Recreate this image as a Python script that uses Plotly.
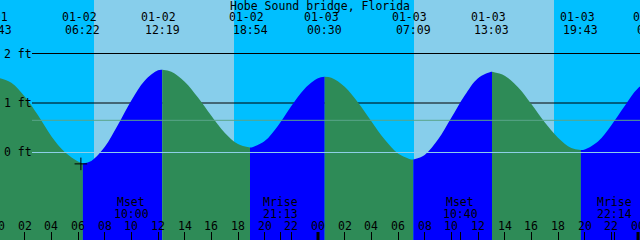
import plotly.graph_objects as go

# ---------------- data ----------------
station = "Hobe Sound bridge, Florida"

extreme_stamps = ["01-01 23:43", "01-02 06:22", "01-02 12:19", "01-02 18:54",
                  "01-03 00:30", "01-03 07:09", "01-03 13:03", "01-03 19:43",
                  "01-04 01:13"]
extreme_ft = [1.52, -0.22, 1.67, 0.10, 1.53, -0.14, 1.63, 0.05, 1.48]

# hourly heights, starting 01-02 00:00
hourly_ft = [1.51, 1.41, 1.13, 0.75, 0.33, 0.01, -0.18,     # 00-06
             -0.17, 0.11, 0.56, 1.05, 1.45, 1.66,             # 07-12
             1.63, 1.43, 1.11, 0.74, 0.40, 0.17,              # 13-18
             0.10, 0.23, 0.54, 0.94, 1.29, 1.50,              # 19-24
             1.51, 1.33, 1.01, 0.63, 0.26, -0.02, -0.14,      # 25-31
             -0.05, 0.26, 0.70, 1.15, 1.50, 1.63,             # 32-37
             1.55, 1.32, 0.98, 0.61, 0.30, 0.09,              # 38-43
             0.06, 0.22, 0.55, 0.94, 1.30, 1.47]              # 44-49

sun_rise = ["01-02 07:12", "01-03 07:12"]
sun_set = ["01-02 17:42", "01-03 17:42"]

moon_names = ["Mset", "Mrise", "Mset", "Mrise"]
moon_stamps = ["01-02 10:00", "01-02 21:13", "01-03 10:40", "01-03 22:14"]

depth_levels = [2, 1, 0]
depth_labels = ["2 ft", "1 ft", "0 ft"]
msl_ft = 0.65

mark_stamp = "01-02 06:13"
mark_ft = -0.23

hour_ticks = list(range(0, 49, 2))
midnights = [24, 48]

# ---------------- style ----------------
DAY = "#87CEEB"
NIGHT = "#00BFFF"
FLOOD = "#0000FF"
EBB = "#2E8B57"
MSL_C = "#5aa58a"
DATUM_C = "#8fd0ea"
FONT = dict(family="DejaVu Sans Mono", size=11.5, color="black")

W, H = 640, 240
XR = [0.15, 48.15]
YR = [-1.768, 3.081]


def to_hours(stamp):
    d, t = stamp.split(" ")
    day = int(d.split("-")[1])
    hh, mm = t.split(":")
    return (day - 2) * 24 + int(hh) + int(mm) / 60.0


def xp(h):  # data hour -> paper fraction
    return (h - XR[0]) / (XR[1] - XR[0])


def ypx(px):  # pixel row from top -> paper fraction
    return 1 - px / H


ext_t = [to_hours(s) for s in extreme_stamps]
hr_t = list(range(len(hourly_ft)))

fig = go.Figure()

# water fill, split into flood / ebb segments
for i in range(len(ext_t) - 1):
    t0, t1 = ext_t[i], ext_t[i + 1]
    xs = [t0] + [t for t in hr_t if t0 < t < t1] + [t1]
    ys = [extreme_ft[i]] + [hourly_ft[t] for t in hr_t if t0 < t < t1] + [extreme_ft[i + 1]]
    col = FLOOD if extreme_ft[i + 1] > extreme_ft[i] else EBB
    fig.add_trace(go.Scatter(x=[t0, t1], y=[YR[0] - 1, YR[0] - 1], mode="lines",
                             line=dict(width=0), hoverinfo="skip"))
    fig.add_trace(go.Scatter(x=xs, y=ys, mode="lines", line=dict(width=0, color=col, shape="spline"),
                             fill="tonexty", fillcolor=col, hoverinfo="skip"))

# current-position marker
fig.add_trace(go.Scatter(x=[to_hours(mark_stamp)], y=[mark_ft], mode="markers",
                         marker=dict(symbol="cross-thin", size=9, line=dict(width=1, color="black")),
                         hoverinfo="skip"))

shapes = []
for r, s in zip(sun_rise, sun_set):
    shapes.append(dict(type="rect", xref="x", yref="paper", x0=to_hours(r), x1=to_hours(s),
                       y0=0, y1=1, fillcolor=DAY, line=dict(width=0), layer="below"))
for lv in depth_levels:
    if lv != 0:
        shapes.append(dict(type="line", xref="paper", yref="y", x0=32 / W, x1=1, y0=lv, y1=lv,
                           line=dict(color="black", width=1), layer="below"))
shapes.append(dict(type="line", xref="paper", yref="y", x0=32 / W, x1=1, y0=msl_ft, y1=msl_ft,
                   line=dict(color=MSL_C, width=1), layer="above"))
shapes.append(dict(type="line", xref="paper", yref="y", x0=32 / W, x1=1, y0=0, y1=0,
                   line=dict(color=DATUM_C, width=1), layer="above"))
for m in midnights:
    shapes.append(dict(type="line", xref="x", yref="paper", x0=m, x1=m, y0=0, y1=8 / H,
                       line=dict(color="black", width=3), layer="above"))

ann = []
ann.append(dict(text=station, xref="paper", yref="paper", x=0.5, y=ypx(6), showarrow=False,
                xanchor="center", yanchor="middle", font=FONT))
for s, t in zip(extreme_stamps, ext_t):
    d, tm = s.split(" ")
    ann.append(dict(text=d, xref="paper", yref="paper", x=xp(t), y=ypx(17), xshift=-3.5,
                    showarrow=False, xanchor="center", yanchor="middle", font=FONT))
    ann.append(dict(text=tm, xref="paper", yref="paper", x=xp(t), y=ypx(30),
                    showarrow=False, xanchor="center", yanchor="middle", font=FONT))
for lv, lb in zip(depth_levels, depth_labels):
    ann.append(dict(text=lb, xref="paper", yref="y", x=1.5 / W, y=lv, showarrow=False,
                    xanchor="left", yanchor="middle", font=FONT))
for nm, s in zip(moon_names, moon_stamps):
    t = to_hours(s)
    ann.append(dict(text=nm, xref="paper", yref="paper", x=xp(t), y=ypx(201.5),
                    showarrow=False, xanchor="center", yanchor="middle", font=FONT))
    ann.append(dict(text=s.split(" ")[1], xref="paper", yref="paper", x=xp(t), y=ypx(213.5),
                    showarrow=False, xanchor="center", yanchor="middle", font=FONT))
for h in hour_ticks:
    ann.append(dict(text=f"{h % 24:02d}", xref="paper", yref="paper", x=xp(h), y=ypx(226),
                    showarrow=False, xanchor="center", yanchor="middle", font=FONT))

tickvals = hour_ticks + [to_hours(s) for s in moon_stamps]

fig.update_layout(
    width=W, height=H, margin=dict(l=0, r=0, t=0, b=0),
    plot_bgcolor=NIGHT, paper_bgcolor=NIGHT, showlegend=False,
    xaxis=dict(range=XR, showgrid=False, zeroline=False, showline=False,
               ticks="inside", ticklen=8, tickwidth=1, tickcolor="black",
               tickvals=tickvals, showticklabels=False, fixedrange=True),
    yaxis=dict(range=YR, showgrid=False, zeroline=False, showline=False,
               showticklabels=False, ticks="", fixedrange=True),
    shapes=shapes, annotations=ann,
)

fig.write_html("out.html")
